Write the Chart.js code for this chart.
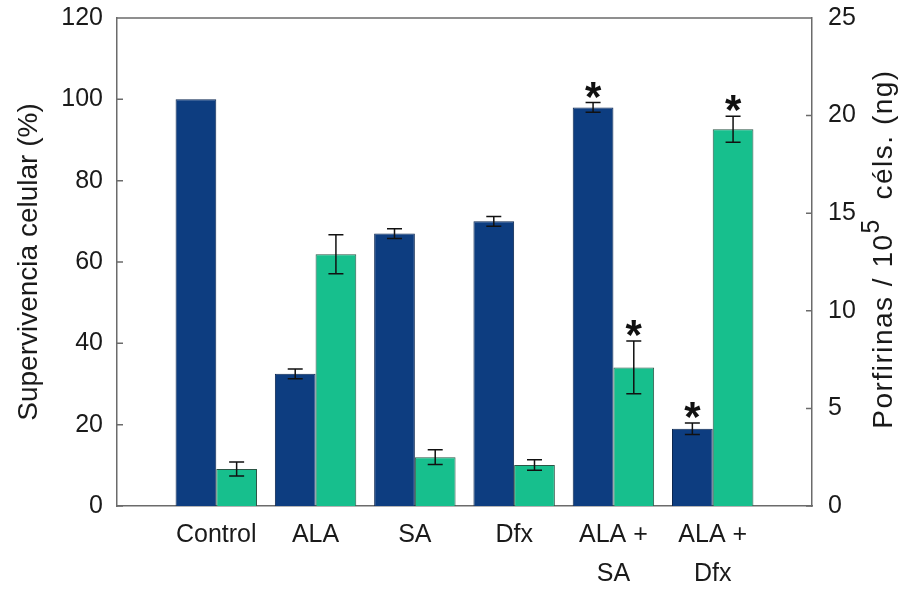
<!DOCTYPE html>
<html>
<head>
<meta charset="utf-8">
<script src="https://cdn.jsdelivr.net/npm/chart.js@4/dist/chart.umd.min.js"></script>
<style>
  html, body { margin: 0; padding: 0; background: #fff; }
  #wrap { width: 916px; height: 591px; }
</style>
</head>
<body>
<div id="wrap"><canvas id="myChart"></canvas></div>
<script>
"use strict";

// categories and values
const categories = ['Control', 'ALA', 'SA', 'Dfx', ['ALA +', 'SA'], ['ALA +', 'Dfx']];
const survival = [100, 32.5, 67, 70, 98, 19];          // left axis, %
const survivalErr = [0, 1.2, 1.2, 1.2, 1.2, 1.4];
const porphyrins = [1.9, 12.9, 2.5, 2.1, 7.1, 19.3];   // right axis, ng / 10^5 cells
const porphyrinsErr = [0.36, 1.0, 0.38, 0.27, 1.35, 0.67];
const survivalSig = [false, false, false, false, true, true];
const porphyrinsSig = [false, false, false, false, true, true];

const FONT = '"Liberation Sans", Arial, sans-serif';
const AXIS = '#6b6b6b';
const TEXT = '#1a1a1a';

// error bars + asterisks
const errorBars = {
    id: 'errorBars',
    afterDatasetsDraw(chart) {
        const ctx = chart.ctx;
        chart.data.datasets.forEach((ds, di) => {
            const meta = chart.getDatasetMeta(di);
            const sc = chart.scales[ds.yAxisID];
            meta.data.forEach((bar, i) => {
                const v = ds.data[i].y;
                const e = ds.errors[i];
                const x = bar.x;
                const yTop = sc.getPixelForValue(v + e);
                if (e > 0) {
                    const yBot = sc.getPixelForValue(v - e);
                    ctx.save();
                    ctx.strokeStyle = '#111';
                    ctx.lineWidth = 1.5;
                    ctx.beginPath();
                    ctx.moveTo(x, yTop); ctx.lineTo(x, yBot);
                    ctx.moveTo(x - 7.5, yTop); ctx.lineTo(x + 7.5, yTop);
                    ctx.moveTo(x - 7.5, yBot); ctx.lineTo(x + 7.5, yBot);
                    ctx.stroke();
                    ctx.restore();
                }
                if (ds.sig[i]) {
                    ctx.save();
                    ctx.fillStyle = '#111';
                    ctx.font = 'bold 42px ' + FONT;
                    ctx.textAlign = 'center';
                    ctx.textBaseline = 'alphabetic';
                    const m = ctx.measureText('*');
                    const cy = yTop - 13;
                    const base = cy + (m.actualBoundingBoxAscent - m.actualBoundingBoxDescent) / 2;
                    ctx.fillText('*', x, base);
                    ctx.restore();
                }
            });
        });
    }
};

// frame top line, inward tick marks, right title with superscript
const frame = {
    id: 'frame',
    afterDraw(chart) {
        const ctx = chart.ctx;
        const a = chart.chartArea;
        ctx.save();
        ctx.strokeStyle = AXIS;
        ctx.lineWidth = 1.5;
        ctx.beginPath();
        ctx.moveTo(a.left, a.top); ctx.lineTo(a.right, a.top);
        ['y', 'y1'].forEach(id => {
            const sc = chart.scales[id];
            const x0 = id === 'y' ? a.left : a.right;
            const dir = id === 'y' ? 1 : -1;
            sc.ticks.forEach((t, i) => {
                const y = sc.getPixelForTick(i);
                ctx.moveTo(x0, y); ctx.lineTo(x0 + dir * 6, y);
            });
        });
        ctx.stroke();

        // right axis title
        const parts = [
            { t: 'Porfirinas / 10', size: 28, rise: 0 },
            { t: '5', size: 25, rise: 12 },
            { t: '  c\u00e9ls. (ng)', size: 28, rise: 0 }
        ];
        ctx.letterSpacing = '1.5px';
        let total = 0;
        parts.forEach(p => {
            ctx.font = p.size + 'px ' + FONT;
            p.w = ctx.measureText(p.t).width;
            total += p.w;
        });
        ctx.translate(883, (a.top + a.bottom) / 2 - 13);
        ctx.rotate(-Math.PI / 2);
        ctx.fillStyle = TEXT;
        ctx.textBaseline = 'middle';
        ctx.textAlign = 'left';
        let px = -total / 2;
        parts.forEach(p => {
            ctx.font = p.size + 'px ' + FONT;
            ctx.fillText(p.t, px, 1 - p.rise);
            px += p.w;
        });
        ctx.restore();
    }
};

const noPad = s => { s.paddingTop = 0; s.paddingBottom = 0; };

const ctx = document.getElementById('myChart').getContext('2d');
const chart = new Chart(ctx, {
    type: 'bar',
    data: {
        datasets: [
            {
                label: 'Supervivencia celular',
                yAxisID: 'y',
                data: survival.map((v, i) => ({ x: i, y: v })),
                errors: survivalErr,
                sig: survivalSig,
                backgroundColor: '#0d3d80',
                borderColor: '#0a2650',
                borderWidth: 1,
                categoryPercentage: 0.82,
                barPercentage: 1.0
            },
            {
                label: 'Porfirinas',
                yAxisID: 'y1',
                data: porphyrins.map((v, i) => ({ x: i, y: v })),
                errors: porphyrinsErr,
                sig: porphyrinsSig,
                backgroundColor: '#17bf8d',
                borderColor: '#2b5546',
                borderWidth: 1,
                categoryPercentage: 0.82,
                barPercentage: 1.0
            }
        ]
    },
    options: {
        responsive: true,
        maintainAspectRatio: false,
        animation: false,
        layout: { padding: { top: 18, left: 0, right: 0, bottom: 0 } },
        plugins: {
            legend: { display: false },
            tooltip: { enabled: false }
        },
        scales: {
            x: {
                type: 'linear',
                offset: false,
                min: -1,
                max: 6,
                afterBuildTicks: s => { s.ticks = categories.map((c, i) => ({ value: i })); },
                afterFit: s => { s.height = 85; },
                grid: { display: false },
                border: { display: true, color: AXIS, width: 1.5 },
                ticks: {
                    autoSkip: false,
                    maxRotation: 0,
                    padding: 2,
                    color: TEXT,
                    font: { family: FONT, size: 25, lineHeight: 1.56 },
                    callback: v => categories[v] !== undefined ? categories[v] : ''
                }
            },
            y: {
                position: 'left',
                min: 0,
                max: 120,
                afterFit: s => { s.width = 117; noPad(s); },
                grid: { display: false },
                border: { display: true, color: AXIS, width: 1.5 },
                ticks: {
                    stepSize: 20,
                    padding: 6,
                    color: TEXT,
                    font: { family: FONT, size: 25 }
                },
                title: {
                    display: true,
                    text: 'Supervivencia celular (%)',
                    color: TEXT,
                    padding: { top: 12, bottom: 0 },
                    font: { family: FONT, size: 28 }
                }
            },
            y1: {
                position: 'right',
                min: 0,
                max: 25,
                afterFit: s => { s.width = 104; noPad(s); },
                grid: { display: false },
                border: { display: true, color: AXIS, width: 1.5 },
                ticks: {
                    stepSize: 5,
                    padding: 8,
                    color: TEXT,
                    font: { family: FONT, size: 25 }
                }
            }
        }
    },
    plugins: [errorBars, frame]
});
</script>
</body>
</html>
